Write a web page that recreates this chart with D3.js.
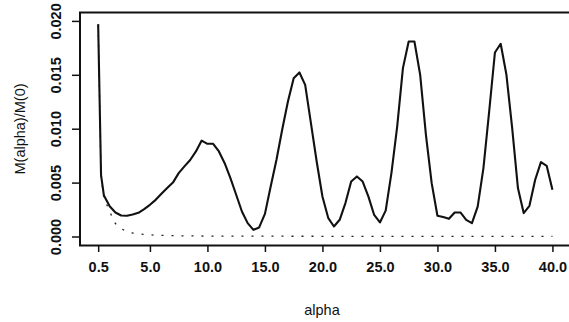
<!DOCTYPE html>
<html>
<head>
<meta charset="utf-8">
<script src="https://cdn.jsdelivr.net/npm/d3@7"></script>
<style>
  body { margin: 0; background: #fff; }
  text { font-family: "Liberation Sans", Arial, sans-serif; fill: #111; }
  .tick-lbl { font-size: 14.5px; font-weight: bold; }
  .ttl { font-size: 14.5px; }
</style>
</head>
<body>
<div id="chart"></div>
<script>
// solid curve: M(alpha)/M(0)
const alpha = [0.5, 0.75, 1, 1.5, 2, 2.5, 3, 3.5, 4, 4.5, 5, 5.5, 6, 6.5, 7, 7.5, 8, 8.5, 9, 9.5,
  10, 10.5, 11, 11.5, 12, 12.5, 13, 13.5, 14, 14.5, 15, 15.5, 16, 16.5, 17, 17.5, 18, 18.5, 19, 19.5,
  20, 20.5, 21, 21.5, 22, 22.5, 23, 23.5, 24, 24.5, 25, 25.5, 26, 26.5, 27, 27.5, 28, 28.5, 29, 29.5,
  30, 30.5, 31, 31.5, 32, 32.5, 33, 33.5, 34, 34.5, 35, 35.5, 36, 36.5, 37, 37.5, 38, 38.5, 39, 39.5, 40];
const ratio = [0.0197, 0.0057, 0.0038, 0.0028, 0.00223, 0.00195, 0.00192, 0.00204, 0.0022, 0.00254,
  0.00294, 0.0034, 0.00396, 0.00449, 0.005, 0.00588, 0.0065, 0.0071, 0.00789, 0.0089,
  0.0086, 0.0086, 0.00789, 0.0068, 0.00542, 0.00387, 0.00232, 0.00124, 0.00062, 0.00084,
  0.0021, 0.00464, 0.0071, 0.0099, 0.01252, 0.01469, 0.01522, 0.01407, 0.01052, 0.00696,
  0.00371, 0.00173, 0.00093, 0.00155, 0.0031, 0.0051, 0.00557, 0.0051, 0.0037, 0.002,
  0.0013, 0.0024, 0.00588, 0.0102, 0.01562, 0.01809, 0.01809, 0.015, 0.00943, 0.00495,
  0.00192, 0.0018, 0.00164, 0.00223, 0.00223, 0.00155, 0.00124, 0.00278, 0.00635, 0.0116,
  0.01707, 0.01788, 0.015, 0.01006, 0.00449, 0.00217, 0.00285, 0.00526, 0.0069, 0.00656, 0.00433];

// dotted reference curve
const alphaRef = [0.5, 0.75, 1, 1.5, 2, 2.5, 3, 3.5, 4, 4.5, 5, 5.5, 6, 7, 8, 9, 10, 15, 20, 25, 30, 35, 40];
const ratioRef = [0.0196, 0.0056, 0.0036, 0.0023, 0.0012, 0.00072, 0.00048, 0.00032, 0.00025, 0.0002,
  0.00015, 0.00012, 0.0001, 0.00008, 0.00006, 0.00005, 0.00004, 0.00003, 0.00002, 0.00002, 0.00002, 0.00002, 0.00002];

const xTicks = [0.5, 5, 10, 15, 20, 25, 30, 35, 40];
const yTicks = [0, 0.005, 0.01, 0.015, 0.02];

const width = 569, height = 322;
const padL = 80, padR = 570.6, padT = 12.5, padB = 245.5;

const svg = d3.select("#chart").append("svg")
  .attr("width", width)
  .attr("height", height);

const x = d3.scaleLinear().domain([-1.08, 41.58]).range([padL, padR]);
const y = d3.scaleLinear().domain([-0.000835, 0.02078]).range([padB, padT]);

// box
svg.append("rect")
  .attr("x", padL).attr("y", padT)
  .attr("width", padR - padL).attr("height", padB - padT)
  .attr("fill", "none").attr("stroke", "#111").attr("stroke-width", 2);

// x axis
const xAxis = svg.append("g")
  .attr("transform", "translate(0," + padB + ")")
  .call(d3.axisBottom(x).tickValues(xTicks).tickFormat(d3.format(".1f")).tickSize(6.5).tickPadding(10));
xAxis.select(".domain").remove();
xAxis.attr("font-family", null).attr("font-size", null);
xAxis.selectAll("line").attr("stroke", "#111").attr("stroke-width", 1.5);
xAxis.selectAll("text").attr("class", "tick-lbl");

// y axis, labels turned like R
const yAxis = svg.append("g")
  .attr("transform", "translate(" + padL + ",0)")
  .call(d3.axisLeft(y).tickValues(yTicks).tickFormat(d3.format(".3f")).tickSize(8));
yAxis.select(".domain").remove();
yAxis.attr("font-family", null).attr("font-size", null);
yAxis.selectAll("line").attr("stroke", "#111").attr("stroke-width", 1.5);
yAxis.selectAll("text")
  .attr("class", "tick-lbl")
  .attr("x", null).attr("dy", null)
  .attr("text-anchor", "middle")
  .attr("transform", "translate(-19,0) rotate(-90)");

// curves
const line = d3.line().x(d => x(d[0])).y(d => y(d[1]));

svg.append("path")
  .datum(d3.zip(alphaRef, ratioRef))
  .attr("d", line)
  .attr("fill", "none")
  .attr("stroke", "#222")
  .attr("stroke-width", 1.3)
  .attr("stroke-dasharray", "2 8");

svg.append("path")
  .datum(d3.zip(alpha, ratio))
  .attr("d", line)
  .attr("fill", "none")
  .attr("stroke", "#111")
  .attr("stroke-width", 2.1)
  .attr("stroke-linejoin", "round");

// axis titles
svg.append("text")
  .attr("class", "ttl")
  .attr("text-anchor", "middle")
  .attr("x", 322).attr("y", 315)
  .text("alpha");

svg.append("text")
  .attr("class", "ttl")
  .attr("text-anchor", "middle")
  .attr("transform", "translate(25," + ((padT + padB) / 2) + ") rotate(-90)")
  .text("M(alpha)/M(0)");
</script>
</body>
</html>
